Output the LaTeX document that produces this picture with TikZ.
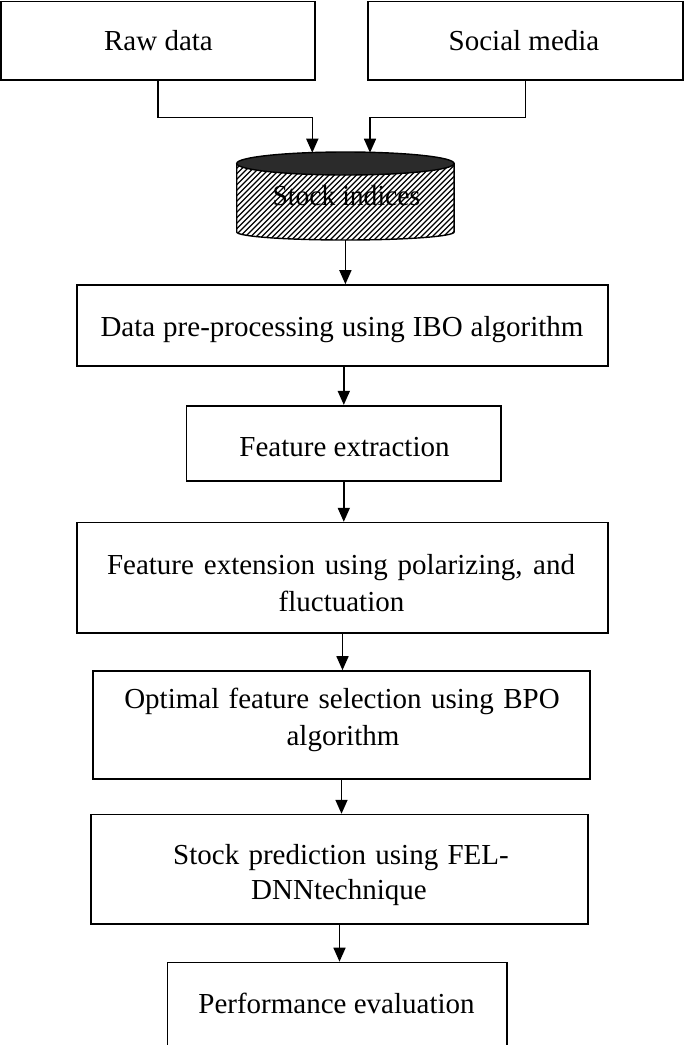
\documentclass[tikz,border=0pt]{standalone}
\usepackage{fontspec}
\setmainfont{Liberation Serif}
\usetikzlibrary{arrows.meta,calc}
\definecolor{topdark}{HTML}{2B2B2B}
\begin{document}
\begin{tikzpicture}[x=1pt,y=-1pt,
  box/.style={draw=black, line width=1.6pt, rectangle, inner sep=0pt},
  txt/.style={anchor=base, inner sep=0pt, font=\fontsize{29}{35}\selectfont},
  arr/.style={draw=black, line width=1.6pt, -{Triangle[length=14pt,width=12pt]}},
  hatch/.style={line width=1.1pt}]
\useasboundingbox (0,0) rectangle (685,1045);
\fill[white] (0,0) rectangle (685,1045);

% top boxes
\node[box, minimum width=314pt, minimum height=78.5pt] (raw) at (158,40.75) {};
\node[box, minimum width=315pt, minimum height=78.5pt] (soc) at (525.5,40.75) {};
\node[txt] (traw) at (158.5,50.5) {Raw data};
\node[txt] (tsoc) at (524,50.5) {Social media};

% cylinder
\coordinate (cylA) at (312.3,152.7);
\coordinate (cylB) at (370,152.7);
\coordinate (cylBot) at (345.4,240);
\begin{scope}
  \clip (236.7,163.5) -- (236.7,232) arc[start angle=180,end angle=0,x radius=108.7,y radius=8] -- (454.1,163.5) -- cycle;
  \fill[white] (230,150) rectangle (460,250);
  \foreach \k in {100,105.5,...,460} {
    \draw[hatch] (\k,250) -- ++(130,-130);
  }
\end{scope}
\draw[line width=1.4pt] (236.7,163.5) -- (236.7,232) arc[start angle=180,end angle=0,x radius=108.7,y radius=8] -- (454.1,163.5);
\draw[line width=1.4pt, fill=topdark] (345.4,163.5) ellipse[x radius=108.7, y radius=11.5];
\node[txt] (tcyl) at (346.5,205) {\scalebox{0.95}[1]{Stock indices}};

% process boxes
\node[box, minimum width=531pt, minimum height=81pt] (b1) at (342.5,325.5) {};
\node[txt] (t1) at (342,336.7) {\makebox[483pt][s]{Data pre-processing using IBO algorithm}};

\node[box, minimum width=314.4pt, minimum height=75pt] (b2) at (343.8,443.2) {};
\node[txt] (t2) at (344.5,456.7) {Feature extraction};

\node[box, minimum width=531pt, minimum height=110.2pt] (b3) at (342.5,577.7) {};
\node[txt] (t3a) at (341,574.7) {\makebox[468pt][s]{Feature extension using polarizing, and}};
\node[txt] (t3b) at (341.5,611) {fluctuation};

\node[box, minimum width=497pt, minimum height=108pt] (b4) at (341.5,725) {};
\node[txt] (t4a) at (342,708.6) {\makebox[435.5pt][s]{Optimal feature selection using BPO}};
\node[txt] (t4b) at (343,745) {algorithm};

\node[box, minimum width=497pt, minimum height=109.4pt] (b5) at (339.5,869.3) {};
\node[txt] (t5a) at (341,864.3) {\makebox[335.6pt][s]{Stock prediction using FEL-}};
\node[txt] (t5b) at (339,899) {DNNtechnique};

\node[box, minimum width=339.4pt, minimum height=97.5pt] (b6) at (337,1011.25) {};
\node[txt] (t6) at (336.5,1013) {Performance evaluation};

% connectors
\draw[arr] (raw.south) -- ++(0,36.75) -| (cylA);
\draw[arr] (soc.south) -- ++(0,36.75) -| (cylB);
\draw[arr] (cylBot) -- (cylBot |- b1.north);
\draw[arr] (b2.north |- b1.south) -- (b2.north);
\draw[arr] (b2.south) -- (b2.south |- b3.north);
\draw[arr] (b3.south) -- (b3.south |- b4.north);
\draw[arr] (b4.south) -- (b4.south |- b5.north);
\draw[arr] (b5.south) -- (b5.south |- b6.north);
\end{tikzpicture}
\end{document}
